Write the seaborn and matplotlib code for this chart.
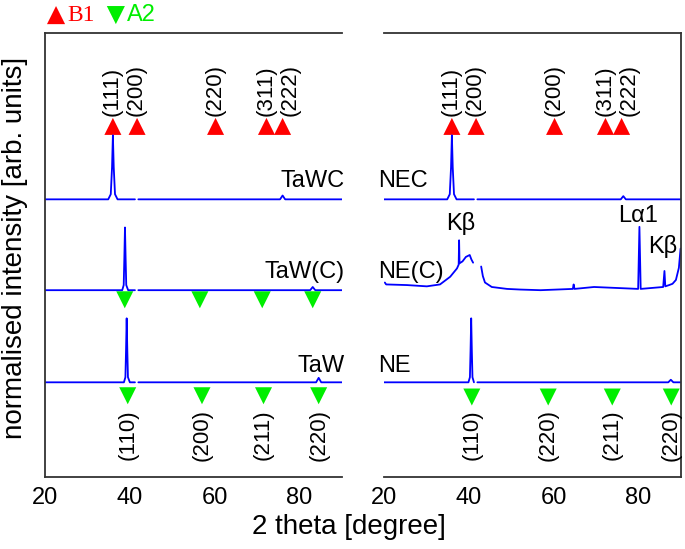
import matplotlib
matplotlib.use("Agg", force=True)
import matplotlib.pyplot as plt
import numpy as np
import pandas as pd
import seaborn as sns

# spectra, relative intensity (main peak = 1), gap near 41.5 deg
GAP = (41.2, 42.0)

tawc_x = [20, 34.9, 35.5, 35.8, 36.0, 36.2, 36.5, 37.1, 41.2, 42.0, 75.4, 76.0, 76.6, 90]
tawc_y = [0, 0, 0.08, 0.5, 1.0, 0.5, 0.08, 0, 0, 0, 0, 0.06, 0, 0]

tawc2_x = [20, 38.2, 38.55, 38.7, 38.85, 39.0, 39.15, 39.6, 41.2, 42.0, 82.5, 83.1, 83.7, 90]
tawc2_y = [0, 0, 0.08, 0.5, 0.98, 0.5, 0.08, 0, 0, 0, 0, 0.05, 0, 0]

taw_x = [20, 38.6, 38.95, 39.1, 39.25, 39.4, 39.55, 40.0, 41.2, 42.0, 83.9, 84.5, 85.1, 90]
taw_y = [0, 0, 0.08, 0.5, 1.0, 0.5, 0.08, 0, 0, 0, 0, 0.07, 0, 0]

nec_x = [20, 34.9, 35.5, 35.8, 36.0, 36.2, 36.5, 37.1, 41.2, 42.0, 75.8, 76.4, 77.0, 90]
nec_y = [0, 0, 0.08, 0.5, 1.0, 0.5, 0.08, 0, 0, 0, 0, 0.05, 0, 0]

nec2_x = [20.2, 20.5, 25.4, 30.1, 33.2, 35.6, 37.2, 37.6, 37.7, 37.8, 38.5, 39.3, 40.2, 40.6, 41.0,
          42.9, 43.3, 43.8, 45.4, 49.0, 52.1, 56.9, 64.5, 64.7, 64.9, 69.5, 76.5, 79.9, 80.2, 80.5,
          85.8, 86.1, 86.3, 87.2, 88.0, 88.8, 89.5, 89.9]
nec2_y = [0.12, 0.09, 0.08, 0.06, 0.09, 0.21, 0.34, 0.40, 0.78, 0.42, 0.45, 0.52, 0.55, 0.48, 0.43,
          0.37, 0.22, 0.12, 0.05, 0.02, 0.01, 0.0, 0.02, 0.09, 0.02, 0.05, 0.03, 0.02, 0.99, 0.02,
          0.05, 0.30, 0.06, 0.08, 0.10, 0.16, 0.35, 0.65]

ne_x = [20, 39.9, 40.25, 40.4, 40.55, 40.7, 40.85, 41.2, 42.0, 87.0, 87.6, 88.2, 90]
ne_y = [0, 0, 0.08, 0.5, 1.0, 0.5, 0.08, 0, 0, 0, 0.04, 0, 0]

offsets = [4.34, 2.92, 1.48]
left_names = ["TaWC", "TaW(C)", "TaW"]
right_names = ["NEC", "NE(C)", "NE"]

# reflections
b1_pos = [36.0, 41.7, 60.2, 72.2, 76.0]
b1_label_pos = [35.8, 41.5, 60.1, 72.2, 77.7]
b1_left_labels = ["(111)", "(200)", "(220)", "(311)", "(222)"]
b1_right_labels = ["(111)", "(200)", "(200)", "(311)", "(222)"]
a2_left_upper = [38.8, 56.5, 71.2, 83.1]
a2_left_lower = [39.5, 57.0, 71.5, 84.5]
a2_right = [40.7, 58.7, 73.8, 87.7]
a2_left_labels = ["(110)", "(200)", "(211)", "(220)"]
a2_right_labels = ["(110)", "(220)", "(211)", "(220)"]

BLUE = "#0000ff"
RED = "#ff0000"
GREEN = "#00ee00"
FS = 17
PFS = 16


def build(curves):
    rows = []
    for name, xs, ys, off in curves:
        for x, y in zip(xs, ys):
            seg = 0 if x <= GAP[0] else 1
            rows.append({"curve": name, "unit": f"{name}_{seg}", "x": x, "y": y + off})
    return pd.DataFrame(rows)


def style_axis(ax, side):
    ax.set_xlim(20, 90)
    ax.set_ylim(0, 6.94)
    ax.set_xticks([20, 40, 60, 80])
    ax.set_xticks([30, 50, 70, 90], minor=True)
    ax.set_yticks([])
    ax.tick_params(axis="x", which="major", direction="in", length=6, width=1.2,
                   labelsize=FS, pad=7, color="#333333", labelcolor="black")
    ax.tick_params(axis="x", which="minor", direction="in", length=4, width=1.2, color="#333333")
    for s in ax.spines.values():
        s.set_linewidth(1.3)
        s.set_color("#333333")
    if side == "left":
        ax.spines["right"].set_visible(False)
    else:
        ax.spines["left"].set_visible(False)
    ax.set_xlabel("")
    ax.set_ylabel("")


sns.set_style("white")
plt.rcParams["font.family"] = ["Liberation Sans", "DejaVu Sans"]
plt.rcParams["text.color"] = "black"

fig = plt.figure(figsize=(6.85, 5.49), dpi=100)
axl = fig.add_axes([45 / 685, 72 / 549, 297 / 685, 444 / 549])
axr = fig.add_axes([384 / 685, 72 / 549, 297 / 685, 444 / 549])

left_df = build([("TaWC", tawc_x, tawc_y, offsets[0]),
                 ("TaW(C)", tawc2_x, tawc2_y, offsets[1]),
                 ("TaW", taw_x, taw_y, offsets[2])])
right_df = build([("NEC", nec_x, nec_y, offsets[0]),
                  ("NE(C)", nec2_x, nec2_y, offsets[1]),
                  ("NE", ne_x, ne_y, offsets[2])])

for ax, df in [(axl, left_df), (axr, right_df)]:
    sns.lineplot(data=df, x="x", y="y", units="unit", estimator=None, sort=False,
                 color=BLUE, lw=1.3, ax=ax)

# B1 markers + labels
for ax, labels in [(axl, b1_left_labels), (axr, b1_right_labels)]:
    sns.scatterplot(x=b1_pos, y=[5.48] * len(b1_pos), marker="^", s=150, color=RED,
                    edgecolor="none", ax=ax)
    for x, lab in zip(b1_label_pos, labels):
        ax.text(x, 5.64, lab, rotation=90, ha="center", va="bottom", fontsize=PFS)

# A2 markers + labels
sns.scatterplot(x=a2_left_upper, y=[2.77] * 4, marker="v", s=150, color=GREEN,
                edgecolor="none", ax=axl)
sns.scatterplot(x=a2_left_lower, y=[1.27] * 4, marker="v", s=150, color=GREEN,
                edgecolor="none", ax=axl)
sns.scatterplot(x=a2_right, y=[1.25] * 4, marker="v", s=150, color=GREEN,
                edgecolor="none", ax=axr, clip_on=False)
for ax, pos, labels in [(axl, a2_left_lower, a2_left_labels), (axr, a2_right, a2_right_labels)]:
    for x, lab in zip(pos, labels):
        ax.text(x, 1.06, lab, rotation=90, ha="center", va="top", fontsize=PFS)

# sample names
name_y = [4.53, 3.11, 1.64]
for name, y in zip(left_names, name_y):
    axl.text(90.7, y, name, ha="right", va="baseline", fontsize=FS, clip_on=False)
for name, y in zip(right_names, name_y):
    axr.text(18.6, y, name, ha="left", va="baseline", fontsize=FS, clip_on=False)

axr.text(38.1, 3.86, "K\u03b2", ha="center", va="baseline", fontsize=FS)
axr.text(79.8, 3.98, "L\u03b11", ha="center", va="baseline", fontsize=FS)
axr.text(85.6, 3.50, "K\u03b2", ha="center", va="baseline", fontsize=FS)

# legend on top
axl.scatter([22.6], [7.22], marker="^", s=170, color=RED, edgecolor="none", clip_on=False)
axl.text(25.3, 7.22, "B1", color=RED, fontsize=FS, family="Liberation Serif",
         ha="left", va="center")
axl.scatter([36.7], [7.22], marker="v", s=170, color=GREEN, edgecolor="none", clip_on=False)
axl.text(39.2, 7.22, "A2", color=GREEN, fontsize=FS, ha="left", va="center")

for ax, side in [(axl, "left"), (axr, "right")]:
    style_axis(ax, side)

fig.text(349 / 685, 1 - 527 / 549, "2 theta [degree]", ha="center", va="center", fontsize=20)
fig.text(15 / 685, 1 - 248 / 549, "normalised intensity [arb. units]", rotation=90,
         ha="center", va="center", fontsize=20)

fig.savefig("out.png", dpi=100)
